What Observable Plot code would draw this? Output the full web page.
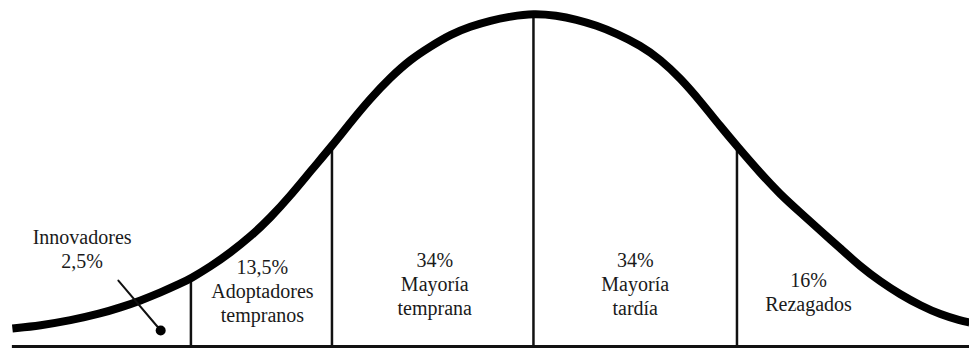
<!DOCTYPE html>
<html>
<head>
<meta charset="utf-8">
<script src="https://cdn.jsdelivr.net/npm/d3@7"></script>
<script src="https://cdn.jsdelivr.net/npm/@observablehq/plot@0.6"></script>
<style>
  html, body { margin: 0; padding: 0; background: #fff; }
  #chart svg { display: block; }
</style>
</head>
<body>
<div id="chart"></div>
<script>
// Curve: x in standard deviations from the mean,
// y as share of the peak height above the baseline.
const curveX = [-2.586, -2.447, -2.298, -2.149, -2.050, -1.950, -1.851, -1.752, -1.702, -1.603, -1.504, -1.404,
                -1.305, -1.206, -1.107, -0.998, -0.908, -0.809, -0.710, -0.610, -0.511, -0.412, -0.313, -0.213, -0.114,
                0, 0.114, 0.213, 0.313, 0.412, 0.531, 0.630, 0.730, 0.829, 0.928, 1.007, 1.127, 1.226,
                1.325, 1.424, 1.524, 1.623, 1.722, 1.821, 1.921, 2.020, 2.119, 2.164];
const curveY = [0.054, 0.063, 0.078, 0.099, 0.117, 0.138, 0.162, 0.189, 0.204, 0.240, 0.282, 0.330,
                0.387, 0.453, 0.526, 0.604, 0.673, 0.745, 0.808, 0.862, 0.901, 0.937, 0.961, 0.979, 0.991,
                1.0, 0.994, 0.982, 0.964, 0.940, 0.904, 0.862, 0.805, 0.736, 0.661, 0.604, 0.520, 0.456,
                0.402, 0.348, 0.294, 0.240, 0.195, 0.156, 0.123, 0.096, 0.078, 0.072];

// Segment boundaries (vertical dividers) and their heights on the curve
const dividerX = [-1.70, -1.00, 0, 1.01];
const dividerTop = [0.204, 0.604, 1.0, 0.604];

// Category labels
const labelText = ["Innovadores\n2,5%", "13,5%\nAdoptadores\ntempranos", "34%\nMayoría\ntemprana", "34%\nMayoría\ntardía", "16%\nRezagados"];
const labelX = [-2.24, -1.345, -0.49, 0.505, 1.365];
const labelY = [0.295, 0.169, 0.19, 0.19, 0.166];

// Pointer for the innovators label
const pointerX = [-2.06, -1.85];
const pointerY = [0.198, 0.048];

const curve = curveX.map((x, i) => ({x, y: curveY[i]}));
const dividers = dividerX.map((x, i) => ({x, top: dividerTop[i]}));
const labels = labelText.map((t, i) => ({t, x: labelX[i], y: labelY[i]}));
const pointer = pointerX.map((x, i) => ({x, y: pointerY[i]}));

const font = "'Liberation Serif', 'Times New Roman', 'Liberation Sans', Arial, sans-serif";

const chart = Plot.plot({
  width: 969,
  height: 352,
  margin: 0,
  x: {domain: [-2.645, 2.164], axis: null},
  y: {domain: [-0.018, 1.039], axis: null},
  style: {background: "#fff", fontFamily: font},
  marks: [
    Plot.ruleY([0], {x1: curveX[0], x2: 2.2, stroke: "#111", strokeWidth: 3}),
    Plot.ruleX(dividers, {x: "x", y1: 0, y2: "top", stroke: "#111", strokeWidth: 2.5}),
    Plot.line(curve, {x: "x", y: "y", curve: "basis", stroke: "#000", strokeWidth: 8, strokeLinecap: "butt"}),
    Plot.line(pointer, {x: "x", y: "y", stroke: "#111", strokeWidth: 2}),
    Plot.dot([pointer[1]], {x: "x", y: "y", r: 5, fill: "#000", stroke: null}),
    Plot.text(labels, {x: "x", y: "y", text: "t", fontFamily: font, fontSize: 20, lineHeight: 1.2, fill: "#1a1a1a", textAnchor: "middle"})
  ]
});
document.getElementById("chart").appendChild(chart);
</script>
</body>
</html>
